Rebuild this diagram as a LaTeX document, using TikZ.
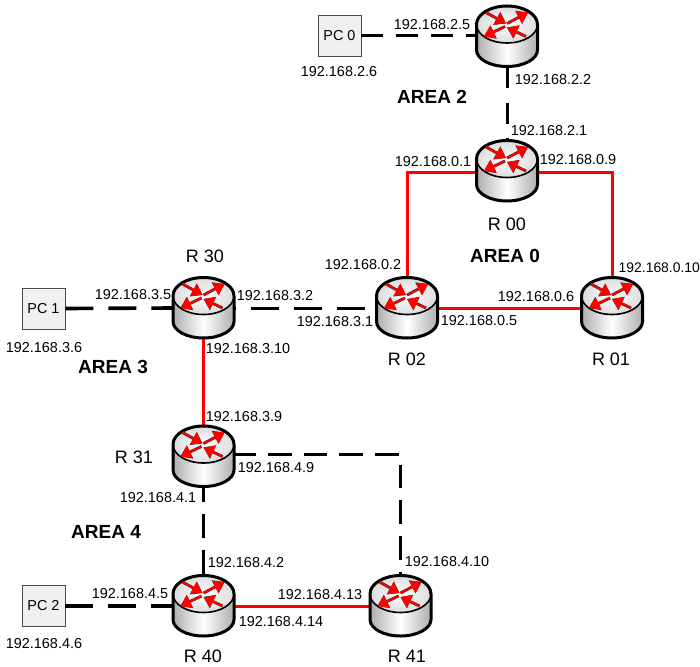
\documentclass[tikz,border=0pt]{standalone}
\usepackage{fontspec}
\setmainfont{Liberation Sans}
\usetikzlibrary{calc,arrows.meta}
\definecolor{arrowred}{RGB}{255,0,0}
\tikzset{
  x=1pt,y=-1pt,
  routerbase/.style={draw=none,rectangle,minimum width=62pt,minimum height=62pt,inner sep=0pt,outer sep=0pt},
  pcbox/.style={draw=black!70,line width=0.8pt,fill=black!6,minimum width=43pt,minimum height=41pt,inner sep=0pt,font=\fontsize{14.4}{16}\selectfont},
  iplabel/.style={inner sep=0pt,font=\fontsize{14.4}{16}\selectfont},
  namelabel/.style={inner sep=0pt,font=\fontsize{18}{20}\selectfont},
  arealabel/.style={inner sep=0pt,font=\fontsize{19}{21}\selectfont\bfseries},
  dashbase/.style={line width=3pt,black},
  dashlong/.style={dashbase,line width=3.6pt,dash pattern=on 28pt off 15pt},
  dashshort/.style={dashbase,dash pattern=on 24pt off 12pt},
  redlink/.style={line width=3pt,arrowred,line join=miter},
  arrowunder/.style={line width=2.8pt,black!85,-{Triangle[length=10.5pt,width=14pt]}},
  arrowover/.style={line width=2pt,arrowred,-{Triangle[length=10.5pt,width=13.5pt]}},
  router/.pic={
    % body
    \fill[left color=black!32,right color=black!32,middle color=white]
      (-30.5,-12) -- (-30.5,13.5) arc[start angle=180,end angle=0,x radius=30.5,y radius=16.5] -- (30.5,-12) -- cycle;
    % top face
    \path[inner color=white,outer color=black!14] (0,-12) ellipse[x radius=30.5,y radius=18.5];
    \draw[line width=1.6pt] (0,-12) ellipse[x radius=30.5,y radius=18.5];
    % outer outline
    \draw[line width=3pt,line join=round]
      (-30.5,-12) -- (-30.5,13.5) arc[start angle=180,end angle=0,x radius=30.5,y radius=16.5] -- (30.5,-12)
      arc[start angle=0,end angle=-180,x radius=30.5,y radius=18.5] -- cycle;
    % arrows
    \foreach \ax/\ay/\bx/\by in {-21/-24/-1/-13, 0/-13/21/-24, -2/-10/-23/0, 19/0/0/-9}{
      \draw[arrowunder] (\ax,\ay) -- (\bx,\by);
    }
    \foreach \ax/\ay/\bx/\by in {-21/-24/-1/-13, 0/-13/21/-24, -2/-10/-23/0, 19/0/0/-9}{
      \draw[arrowover] (\ax,\ay) -- (\bx,\by);
    }
  },
}
\begin{document}
\begin{tikzpicture}
\useasboundingbox (0,0) rectangle (700,666);
\fill[white] (0,0) rectangle (700,666);
% anchors for routers
\node[routerbase] (r20) at (507,36.5) {};
\node[routerbase] (r00) at (507,171) {};
\node[routerbase] (r02) at (407,308) {};
\node[routerbase] (r01) at (612,308) {};
\node[routerbase] (r30) at (203.5,308) {};
\node[routerbase] (r31) at (203.5,456.5) {};
\node[routerbase] (r40) at (203.5,606) {};
\node[routerbase] (r41) at (400.5,606) {};
% PCs
\node[pcbox] (pc0) at (339.5,35.5) {PC 0};
\node[pcbox] (pc1) at (43.5,308.5) {PC 1};
\node[pcbox] (pc2) at (43.5,606) {PC 2};
\coordinate (r31out) at (235,454);
\coordinate (bend) at (400.5,454);
\coordinate (r00w) at (476,172);
\coordinate (r00e) at (538,172);
% connectors
\draw[dashbase,dash pattern=on 22pt off 13pt] (pc0.east) -- (r20.west |- pc0.east);
\draw[dashbase,dash pattern=on 21pt off 14pt] (r20.south) -- (r00.north);
\draw[dashlong] (pc1.east) -- (r30.west);
\draw[dashbase,dash pattern=on 28pt off 15pt,dash phase=27pt] (r30.east) -- (r02.west);
\draw[dashshort,dash phase=10pt] (r31.south) -- (r40.north);
\draw[dashlong,line width=4pt] (pc2.east) -- (r40.west);
\draw[dashbase,dash pattern=on 23.8pt off 12pt,dash phase=3pt] (r31out) -- (bend) -- (r41.north);
\draw[redlink] (r00w) -- (r00w -| r02.north) -- (r02.north);
\draw[redlink] (r00e) -- (r00e -| r01.north) -- (r01.north);
\draw[redlink] (r02.east) -- (r01.west);
\draw[redlink] (r30.south) -- (r31.north);
\draw[redlink] (r40.east) -- (r41.west);
% routers
\foreach \p in {r20,r00,r02,r01,r30,r31,r40,r41}{
  \pic at (\p.center) {router};
}
% ip labels
\node[iplabel] (l1) at (432,25) {192.168.2.5};
\node[iplabel] (l2) at (339,72) {192.168.2.6};
\node[iplabel] (l3) at (553,80) {192.168.2.2};
\node[iplabel] (l4) at (549,131) {192.168.2.1};
\node[iplabel] (l5) at (433,162) {192.168.0.1};
\node[iplabel] (l6) at (578,160) {192.168.0.9};
\node[iplabel] (l7) at (363,265) {192.168.0.2};
\node[iplabel,font=\fontsize{13.9}{16}\selectfont] (l8) at (659.3,268) {192.168.0.10};
\node[iplabel] (l9) at (133,295) {192.168.3.5};
\node[iplabel] (l10) at (275,296) {192.168.3.2};
\node[iplabel] (l11) at (335,322) {192.168.3.1};
\node[iplabel] (l12) at (536,297) {192.168.0.6};
\node[iplabel] (l13) at (479,321) {192.168.0.5};
\node[iplabel] (l14) at (44,348) {192.168.3.6};
\node[iplabel] (l15) at (248,349) {192.168.3.10};
\node[iplabel] (l16) at (244,417) {192.168.3.9};
\node[iplabel] (l17) at (276,468) {192.168.4.9};
\node[iplabel] (l18) at (158,498) {192.168.4.1};
\node[iplabel] (l19) at (246,563) {192.168.4.2};
\node[iplabel] (l20) at (447,562) {192.168.4.10};
\node[iplabel] (l21) at (130,594) {192.168.4.5};
\node[iplabel] (l22) at (320,595) {192.168.4.13};
\node[iplabel] (l23) at (281,622) {192.168.4.14};
\node[iplabel] (l24) at (44,644) {192.168.4.6};
% router names
\node[namelabel] (n1) at (507,224) {R 00};
\node[namelabel] (n2) at (205,256) {R 30};
\node[namelabel] (n3) at (407,359.5) {R 02};
\node[namelabel] (n4) at (611,359.5) {R 01};
\node[namelabel] (n5) at (134,457) {R 31};
\node[namelabel] (n6) at (203,656) {R 40};
\node[namelabel] (n7) at (407,656) {R 41};
% areas
\node[arealabel] (a2) at (432,97) {AREA 2};
\node[arealabel] (a0) at (505,256) {AREA 0};
\node[arealabel] (a3) at (113,367) {AREA 3};
\node[arealabel] (a4) at (106,532) {AREA 4};
\end{tikzpicture}
\end{document}
